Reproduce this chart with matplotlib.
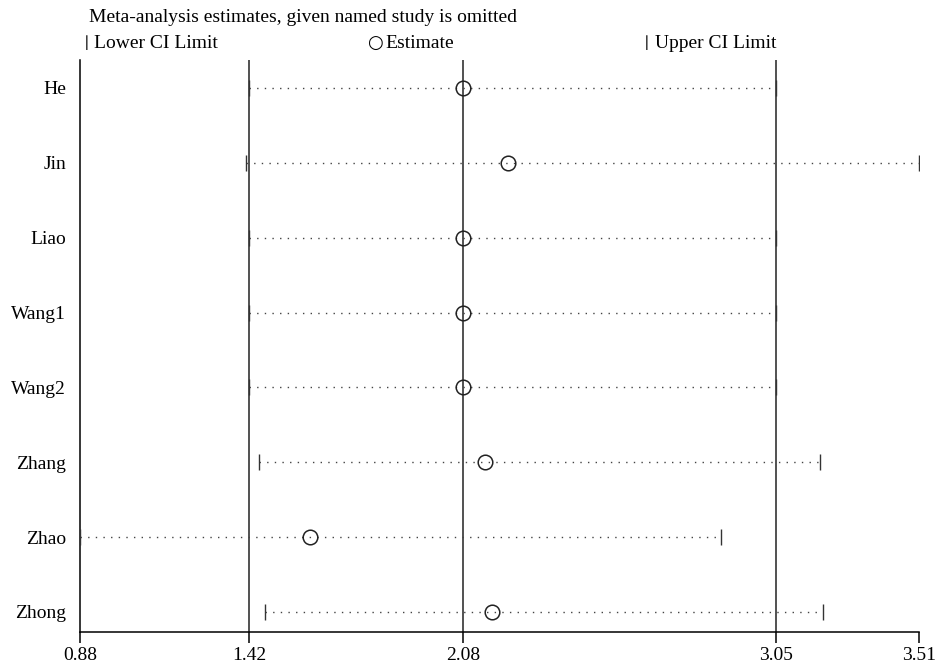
import matplotlib
matplotlib.use("Agg")
import matplotlib.pyplot as plt

# 数据
studies = ["He", "Jin", "Liao", "Wang1", "Wang2", "Zhang", "Zhao", "Zhong"]
estimate = [2.08, 2.22, 2.08, 2.08, 2.08, 2.15, 1.60, 2.17]
lower_ci = [1.41, 1.40, 1.41, 1.41, 1.41, 1.44, 0.88, 1.46]
upper_ci = [3.06, 3.51, 3.06, 3.06, 3.06, 3.20, 2.89, 3.21]
ref_lines = [1.41, 2.08, 3.06]
tick_vals = [0.88, 1.41, 2.08, 3.06, 3.51]
tick_labels = ["0.88", "1.42", "2.08", "3.05", "3.51"]

plt.rcParams['font.family'] = ['Liberation Serif', 'DejaVu Serif']

fig = plt.figure(figsize=(9.36, 6.69), dpi=100)
ax = fig.add_axes([0.0855, 0.055, 0.8965, 0.855])

# 参考竖线
for v in ref_lines:
    ax.axvline(v, color='#222222', linewidth=1.1, zorder=1)

ypos = list(range(len(studies)))
for y, lo, est, hi in zip(ypos, lower_ci, estimate, upper_ci):
    ax.plot([lo, hi], [y, y], linestyle=(0, (1, 4.5)), color='#444444', linewidth=1.0, zorder=2)
    ax.plot([lo, hi], [y, y], linestyle='none', marker='|', markersize=11,
            markeredgewidth=1.0, color='#333333', zorder=3)
    ax.plot(est, y, marker='o', markersize=10.5, markerfacecolor='none',
            markeredgecolor='#222222', markeredgewidth=1.1, zorder=4)

ax.set_xlim(0.88, 3.51)
ax.set_ylim(7.27, -0.37)
ax.set_yticks(ypos)
ax.set_yticklabels(studies, fontsize=14)
ax.tick_params(axis='y', length=0, pad=10)
ax.set_xticks(tick_vals)
ax.set_xticklabels(tick_labels, fontsize=14)
ax.tick_params(axis='x', length=8, width=1.1, pad=3)

ax.spines['top'].set_visible(False)
ax.spines['right'].set_visible(False)
ax.spines['left'].set_linewidth(1.1)
ax.spines['bottom'].set_linewidth(1.1)

# 标题与图例
fig.text(89 / 936, 1 - 17 / 669, "Meta-analysis estimates, given named study is omitted",
         fontsize=14, va='center', ha='left')
legend_y = 1 - 43 / 669
fig.text(83 / 936, legend_y, "\u2223", fontsize=11, va='center', ha='left', family=['DejaVu Sans'])
fig.text(94 / 936, legend_y, "Lower CI Limit", fontsize=14, va='center', ha='left')
fig.text(367 / 936, legend_y, "\u25cb", fontsize=13, va='center', ha='left', family=['DejaVu Serif'])
fig.text(385 / 936, legend_y, "Estimate", fontsize=14, va='center', ha='left')
fig.text(643 / 936, legend_y, "\u2223", fontsize=11, va='center', ha='left', family=['DejaVu Sans'])
fig.text(655 / 936, legend_y, "Upper CI Limit", fontsize=14, va='center', ha='left')

fig.savefig("out.png", dpi=100)
